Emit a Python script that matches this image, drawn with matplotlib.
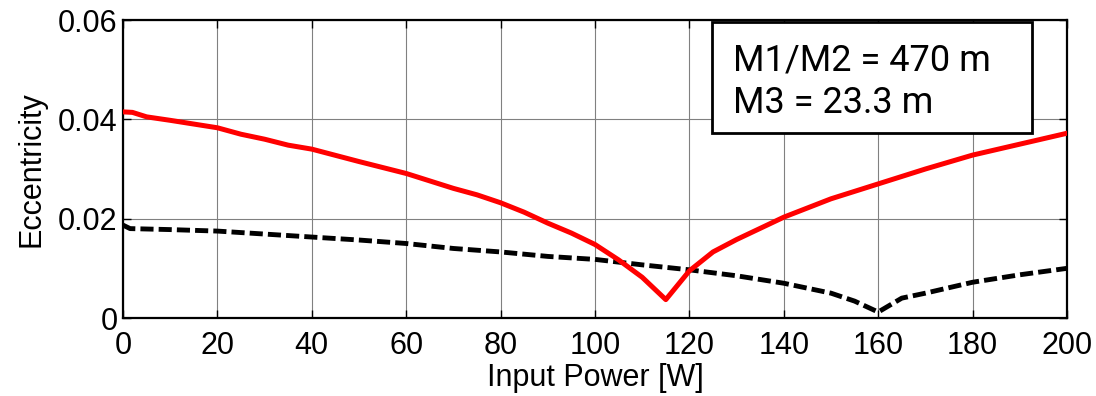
import matplotlib
matplotlib.use("Agg")
import matplotlib.pyplot as plt
from matplotlib.patches import Rectangle

# Eccentricity versus input power
power_red = [0, 2, 5, 10, 20, 25, 30, 35, 40, 50, 60, 70, 75, 80, 85, 90, 95, 100,
             105, 110, 115, 120, 125, 130, 140, 150, 160, 170, 180, 190, 200]
ecc_red = [0.0415, 0.0414, 0.0405, 0.0398, 0.0383, 0.0370, 0.0360, 0.0348, 0.0340,
           0.0315, 0.0291, 0.0261, 0.0248, 0.0232, 0.0213, 0.0191, 0.0171, 0.0148,
           0.0117, 0.0082, 0.0037, 0.0095, 0.0133, 0.0158, 0.0203, 0.0240, 0.0270,
           0.0300, 0.0328, 0.0350, 0.0372]

power_black = [0, 1.5, 10, 20, 30, 40, 50, 60, 70, 80, 90, 95, 100, 110, 120, 130,
               140, 150, 155, 160, 165, 170, 180, 190, 200]
ecc_black = [0.0187, 0.0180, 0.0178, 0.0175, 0.0169, 0.0163, 0.0157, 0.0150, 0.0140,
             0.0133, 0.0124, 0.0121, 0.0118, 0.0107, 0.0097, 0.0085, 0.0070, 0.0050,
             0.0034, 0.0012, 0.0040, 0.0050, 0.0072, 0.0087, 0.0100]

x_ticks = [0, 20, 40, 60, 80, 100, 120, 140, 160, 180, 200]
y_ticks = [0, 0.02, 0.04, 0.06]
y_tick_labels = ["0", "0.02", "0.04", "0.06"]
box_lines = ["M1/M2 = 470 m", "M3 = 23.3 m"]

plt.rcParams["font.family"] = ["Liberation Sans", "DejaVu Sans"]

fig = plt.figure(figsize=(10.96, 3.96), dpi=100)
ax = fig.add_axes([123 / 1096, 1 - 318 / 396, (1067 - 123) / 1096, (318 - 20) / 396])

ax.plot(power_black, ecc_black, color="black", lw=3.5, ls=(0, (2.7, 1.05)), zorder=3)
ax.plot(power_red, ecc_red, color="#ff0000", lw=3.6, zorder=4)

ax.set_xlim(0, 200)
ax.set_ylim(0, 0.06)
ax.set_xticks(x_ticks)
ax.set_yticks(y_ticks)
ax.set_yticklabels(y_tick_labels)
ax.grid(True, color="#808080", lw=0.8)
ax.tick_params(direction="in", length=6, width=1, top=True, right=True,
               labelsize=22, colors="black")
ax.tick_params(axis="x", pad=9)
ax.tick_params(axis="y", pad=4)
for s in ax.spines.values():
    s.set_linewidth(1.6)

ax.set_xlabel("Input Power [W]", fontsize=22, labelpad=2)
ax.set_ylabel("Eccentricity", fontsize=22, labelpad=8)

# annotation box with mirror radii
ax.add_patch(Rectangle((0.624, 0.621), 0.339, 0.372, transform=ax.transAxes,
                       fc="white", ec="black", lw=2.0, zorder=6))
for line, yb in zip(box_lines, [0.832, 0.688]):
    ax.text(0.646, yb, line, transform=ax.transAxes, fontsize=26,
            family=["Roboto", "DejaVu Sans"], va="baseline", ha="left", zorder=7)

fig.savefig("out.png", dpi=100)
